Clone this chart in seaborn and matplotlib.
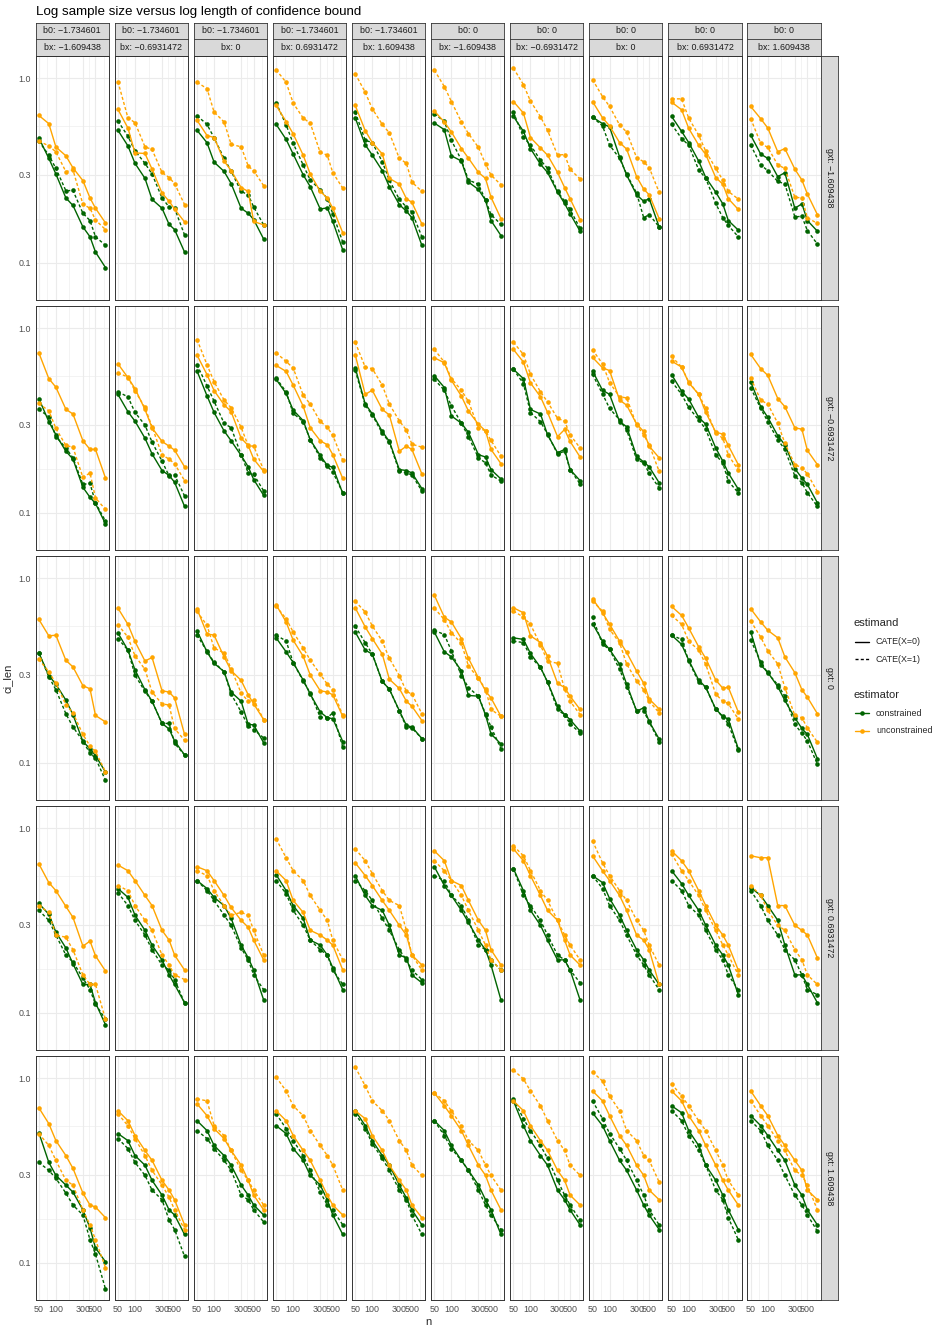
import numpy as np
import pandas as pd
import seaborn as sns
import matplotlib.pyplot as plt
from matplotlib.ticker import FixedLocator, FixedFormatter, NullFormatter

# facet levels
n_values = [50, 75, 100, 150, 200, 300, 400, 500, 750]
b0_labels = ["-1.734601"] * 5 + ["0"] * 5
bx_labels = ["-1.609438", "-0.6931472", "0", "0.6931472", "1.609438"] * 2
gxt_labels = ["-1.609438", "-0.6931472", "0", "0.6931472", "1.609438"]
estimators = ["constrained", "unconstrained"]
estimands = ["CATE(X=0)", "CATE(X=1)"]

# ci_len per row (gxt), one list of 9 values per column panel
con_x0_r1 = [
    [0.474, 0.367, 0.302, 0.224, 0.204, 0.156, 0.138, 0.114, 0.094],
    [0.521, 0.429, 0.345, 0.286, 0.220, 0.197, 0.161, 0.151, 0.114],
    [0.521, 0.446, 0.350, 0.312, 0.268, 0.197, 0.185, 0.171, 0.134],
    [0.561, 0.465, 0.387, 0.299, 0.258, 0.195, 0.198, 0.167, 0.117],
    [0.609, 0.435, 0.382, 0.315, 0.258, 0.206, 0.190, 0.175, 0.124],
    [0.570, 0.525, 0.379, 0.355, 0.273, 0.249, 0.218, 0.169, 0.140],
    [0.619, 0.514, 0.415, 0.341, 0.308, 0.241, 0.209, 0.184, 0.148],
    [0.614, 0.566, 0.543, 0.374, 0.298, 0.233, 0.215, 0.222, 0.156],
    [0.619, 0.514, 0.447, 0.355, 0.289, 0.241, 0.208, 0.169, 0.150],
    [0.490, 0.387, 0.367, 0.292, 0.307, 0.197, 0.208, 0.169, 0.148],
]
con_x1_r1 = [
    [0.455, 0.382, 0.324, 0.245, 0.246, 0.185, 0.169, 0.138, 0.124],
    [0.585, 0.484, 0.403, 0.345, 0.302, 0.224, 0.200, 0.197, 0.141],
    [0.624, 0.561, 0.474, 0.367, 0.313, 0.243, 0.233, 0.200, 0.160],
    [0.734, 0.557, 0.442, 0.338, 0.280, 0.248, 0.222, 0.184, 0.129],
    [0.654, 0.460, 0.447, 0.352, 0.280, 0.220, 0.200, 0.188, 0.138],
    [0.640, 0.582, 0.460, 0.359, 0.280, 0.266, 0.218, 0.182, 0.161],
    [0.654, 0.478, 0.433, 0.359, 0.324, 0.243, 0.215, 0.194, 0.153],
    [0.614, 0.550, 0.433, 0.367, 0.301, 0.238, 0.175, 0.182, 0.156],
    [0.561, 0.470, 0.433, 0.318, 0.286, 0.209, 0.175, 0.159, 0.138],
    [0.433, 0.338, 0.315, 0.275, 0.267, 0.177, 0.178, 0.149, 0.126],
]
unc_x0_r1 = [
    [0.627, 0.566, 0.423, 0.379, 0.326, 0.278, 0.224, 0.197, 0.164],
    [0.676, 0.536, 0.393, 0.390, 0.321, 0.238, 0.215, 0.195, 0.166],
    [0.590, 0.488, 0.476, 0.355, 0.315, 0.255, 0.243, 0.167, 0.160],
    [0.710, 0.581, 0.498, 0.382, 0.302, 0.243, 0.224, 0.197, 0.145],
    [0.710, 0.519, 0.447, 0.388, 0.286, 0.266, 0.222, 0.212, 0.162],
    [0.662, 0.578, 0.510, 0.415, 0.368, 0.308, 0.286, 0.226, 0.173],
    [0.746, 0.646, 0.476, 0.418, 0.382, 0.308, 0.255, 0.222, 0.171],
    [0.746, 0.609, 0.550, 0.447, 0.412, 0.292, 0.250, 0.233, 0.173],
    [0.740, 0.673, 0.534, 0.433, 0.385, 0.289, 0.266, 0.222, 0.194],
    [0.701, 0.602, 0.536, 0.398, 0.415, 0.321, 0.280, 0.235, 0.182],
]
unc_x1_r1 = [
    [0.455, 0.429, 0.398, 0.311, 0.318, 0.207, 0.197, 0.170, 0.151],
    [0.956, 0.609, 0.573, 0.424, 0.410, 0.308, 0.289, 0.268, 0.206],
    [0.948, 0.876, 0.654, 0.578, 0.437, 0.424, 0.334, 0.314, 0.261],
    [1.107, 0.948, 0.731, 0.607, 0.569, 0.395, 0.382, 0.307, 0.253],
    [1.055, 0.837, 0.681, 0.561, 0.504, 0.367, 0.345, 0.273, 0.243],
    [1.104, 0.899, 0.746, 0.578, 0.500, 0.421, 0.342, 0.298, 0.264],
    [1.131, 0.921, 0.749, 0.617, 0.521, 0.382, 0.385, 0.320, 0.284],
    [0.980, 0.794, 0.701, 0.557, 0.510, 0.370, 0.352, 0.327, 0.240],
    [0.771, 0.771, 0.607, 0.490, 0.401, 0.324, 0.280, 0.243, 0.221],
    [0.602, 0.442, 0.421, 0.338, 0.324, 0.226, 0.224, 0.175, 0.163],
]

con_x0_r2 = [
    [0.415, 0.311, 0.264, 0.215, 0.195, 0.137, 0.121, 0.112, 0.087],
    [0.437, 0.352, 0.313, 0.253, 0.208, 0.169, 0.159, 0.146, 0.108],
    [0.585, 0.429, 0.349, 0.277, 0.245, 0.204, 0.177, 0.151, 0.124],
    [0.527, 0.442, 0.359, 0.315, 0.248, 0.204, 0.180, 0.176, 0.127],
    [0.609, 0.388, 0.343, 0.275, 0.243, 0.171, 0.169, 0.164, 0.135],
    [0.552, 0.476, 0.334, 0.305, 0.272, 0.206, 0.200, 0.171, 0.152],
    [0.597, 0.532, 0.362, 0.342, 0.264, 0.211, 0.220, 0.171, 0.149],
    [0.585, 0.460, 0.437, 0.311, 0.292, 0.202, 0.188, 0.177, 0.145],
    [0.559, 0.455, 0.412, 0.328, 0.301, 0.224, 0.190, 0.164, 0.134],
    [0.510, 0.375, 0.328, 0.261, 0.233, 0.173, 0.154, 0.142, 0.113],
]
con_x1_r2 = [
    [0.362, 0.331, 0.258, 0.224, 0.198, 0.142, 0.144, 0.113, 0.090],
    [0.451, 0.424, 0.349, 0.298, 0.241, 0.190, 0.158, 0.160, 0.123],
    [0.632, 0.486, 0.401, 0.305, 0.288, 0.206, 0.164, 0.161, 0.131],
    [0.536, 0.451, 0.345, 0.311, 0.248, 0.198, 0.178, 0.166, 0.128],
    [0.590, 0.382, 0.338, 0.269, 0.241, 0.167, 0.164, 0.160, 0.131],
    [0.527, 0.460, 0.379, 0.305, 0.258, 0.198, 0.186, 0.160, 0.148],
    [0.597, 0.500, 0.348, 0.311, 0.266, 0.208, 0.215, 0.171, 0.143],
    [0.561, 0.439, 0.367, 0.318, 0.280, 0.194, 0.186, 0.163, 0.136],
    [0.514, 0.437, 0.371, 0.318, 0.283, 0.205, 0.186, 0.148, 0.128],
    [0.474, 0.367, 0.311, 0.248, 0.220, 0.158, 0.145, 0.128, 0.108],
]
unc_x0_r2 = [
    [0.734, 0.532, 0.478, 0.363, 0.342, 0.245, 0.220, 0.220, 0.154],
    [0.640, 0.539, 0.470, 0.362, 0.288, 0.243, 0.229, 0.218, 0.177],
    [0.713, 0.559, 0.458, 0.384, 0.352, 0.253, 0.231, 0.195, 0.167],
    [0.627, 0.582, 0.490, 0.377, 0.288, 0.245, 0.233, 0.206, 0.153],
    [0.716, 0.437, 0.460, 0.362, 0.338, 0.215, 0.229, 0.220, 0.162],
    [0.690, 0.648, 0.521, 0.428, 0.355, 0.301, 0.277, 0.220, 0.184],
    [0.765, 0.654, 0.504, 0.424, 0.349, 0.258, 0.282, 0.243, 0.200],
    [0.693, 0.609, 0.588, 0.407, 0.382, 0.302, 0.275, 0.229, 0.198],
    [0.662, 0.614, 0.506, 0.437, 0.349, 0.273, 0.266, 0.231, 0.182],
    [0.719, 0.602, 0.554, 0.415, 0.375, 0.288, 0.283, 0.217, 0.182],
]
unc_x1_r2 = [
    [0.390, 0.356, 0.286, 0.231, 0.226, 0.155, 0.164, 0.120, 0.104],
    [0.570, 0.543, 0.456, 0.371, 0.292, 0.205, 0.195, 0.184, 0.149],
    [0.866, 0.632, 0.512, 0.407, 0.370, 0.290, 0.230, 0.229, 0.170],
    [0.734, 0.659, 0.607, 0.433, 0.387, 0.312, 0.290, 0.262, 0.192],
    [0.837, 0.614, 0.602, 0.490, 0.387, 0.314, 0.280, 0.235, 0.226],
    [0.765, 0.654, 0.532, 0.460, 0.400, 0.288, 0.277, 0.246, 0.202],
    [0.837, 0.719, 0.561, 0.451, 0.398, 0.324, 0.313, 0.264, 0.224],
    [0.762, 0.640, 0.506, 0.424, 0.418, 0.298, 0.264, 0.233, 0.167],
    [0.701, 0.614, 0.510, 0.437, 0.367, 0.269, 0.253, 0.205, 0.170],
    [0.536, 0.407, 0.387, 0.305, 0.238, 0.182, 0.175, 0.162, 0.130],
]

con_x0_r3 = [
    [0.393, 0.296, 0.266, 0.218, 0.182, 0.130, 0.119, 0.109, 0.089],
    [0.504, 0.407, 0.318, 0.248, 0.215, 0.163, 0.152, 0.131, 0.110],
    [0.517, 0.398, 0.345, 0.311, 0.241, 0.215, 0.161, 0.160, 0.128],
    [0.474, 0.398, 0.348, 0.280, 0.235, 0.188, 0.175, 0.173, 0.130],
    [0.510, 0.407, 0.387, 0.275, 0.250, 0.191, 0.159, 0.156, 0.135],
    [0.510, 0.398, 0.374, 0.315, 0.231, 0.229, 0.181, 0.143, 0.126],
    [0.474, 0.465, 0.390, 0.328, 0.273, 0.202, 0.182, 0.171, 0.148],
    [0.566, 0.455, 0.410, 0.341, 0.266, 0.190, 0.198, 0.167, 0.134],
    [0.490, 0.437, 0.359, 0.280, 0.256, 0.195, 0.178, 0.172, 0.119],
    [0.510, 0.338, 0.308, 0.258, 0.217, 0.175, 0.153, 0.142, 0.105],
]
con_x1_r3 = [
    [0.393, 0.292, 0.248, 0.184, 0.156, 0.131, 0.112, 0.106, 0.080],
    [0.470, 0.407, 0.298, 0.243, 0.215, 0.163, 0.163, 0.127, 0.110],
    [0.490, 0.401, 0.349, 0.311, 0.235, 0.188, 0.158, 0.151, 0.136],
    [0.490, 0.456, 0.348, 0.277, 0.238, 0.176, 0.175, 0.186, 0.121],
    [0.548, 0.446, 0.387, 0.275, 0.250, 0.190, 0.156, 0.154, 0.135],
    [0.521, 0.494, 0.403, 0.296, 0.255, 0.229, 0.184, 0.156, 0.119],
    [0.455, 0.447, 0.374, 0.328, 0.273, 0.194, 0.181, 0.162, 0.145],
    [0.614, 0.437, 0.410, 0.320, 0.258, 0.191, 0.190, 0.166, 0.130],
    [0.490, 0.465, 0.355, 0.273, 0.256, 0.194, 0.177, 0.162, 0.117],
    [0.460, 0.352, 0.305, 0.264, 0.229, 0.161, 0.144, 0.131, 0.098],
]
unc_x0_r3 = [
    [0.597, 0.486, 0.490, 0.358, 0.330, 0.261, 0.251, 0.180, 0.166],
    [0.687, 0.561, 0.453, 0.355, 0.371, 0.245, 0.241, 0.224, 0.142],
    [0.681, 0.498, 0.490, 0.374, 0.315, 0.279, 0.233, 0.208, 0.171],
    [0.716, 0.578, 0.460, 0.377, 0.298, 0.245, 0.241, 0.233, 0.178],
    [0.690, 0.543, 0.470, 0.387, 0.283, 0.252, 0.215, 0.202, 0.169],
    [0.807, 0.614, 0.578, 0.470, 0.367, 0.288, 0.245, 0.224, 0.178],
    [0.690, 0.648, 0.486, 0.447, 0.377, 0.269, 0.255, 0.229, 0.194],
    [0.771, 0.648, 0.561, 0.455, 0.395, 0.313, 0.269, 0.221, 0.195],
    [0.701, 0.627, 0.536, 0.424, 0.367, 0.280, 0.253, 0.256, 0.188],
    [0.681, 0.578, 0.521, 0.474, 0.374, 0.307, 0.248, 0.226, 0.184],
]
unc_x1_r3 = [
    [0.362, 0.311, 0.269, 0.206, 0.186, 0.142, 0.123, 0.115, 0.089],
    [0.559, 0.478, 0.379, 0.320, 0.241, 0.208, 0.205, 0.153, 0.132],
    [0.659, 0.554, 0.417, 0.393, 0.323, 0.238, 0.215, 0.218, 0.171],
    [0.704, 0.602, 0.510, 0.418, 0.359, 0.301, 0.266, 0.248, 0.180],
    [0.749, 0.654, 0.550, 0.455, 0.367, 0.296, 0.243, 0.235, 0.184],
    [0.687, 0.595, 0.506, 0.442, 0.334, 0.286, 0.250, 0.194, 0.178],
    [0.662, 0.614, 0.561, 0.433, 0.355, 0.345, 0.250, 0.215, 0.182],
    [0.749, 0.662, 0.527, 0.446, 0.342, 0.277, 0.248, 0.215, 0.186],
    [0.627, 0.561, 0.455, 0.407, 0.341, 0.235, 0.215, 0.209, 0.172],
    [0.585, 0.478, 0.403, 0.342, 0.255, 0.180, 0.175, 0.154, 0.129],
]

con_x0_r4 = [
    [0.390, 0.341, 0.273, 0.224, 0.184, 0.142, 0.142, 0.113, 0.086],
    [0.470, 0.421, 0.337, 0.279, 0.232, 0.193, 0.160, 0.142, 0.113],
    [0.519, 0.470, 0.421, 0.380, 0.324, 0.232, 0.198, 0.170, 0.117],
    [0.559, 0.458, 0.380, 0.324, 0.247, 0.232, 0.205, 0.175, 0.133],
    [0.552, 0.431, 0.380, 0.358, 0.297, 0.205, 0.198, 0.160, 0.145],
    [0.617, 0.488, 0.431, 0.358, 0.308, 0.247, 0.219, 0.181, 0.117],
    [0.602, 0.458, 0.358, 0.297, 0.247, 0.193, 0.193, 0.170, 0.117],
    [0.552, 0.506, 0.415, 0.337, 0.279, 0.219, 0.193, 0.170, 0.142],
    [0.587, 0.500, 0.431, 0.358, 0.297, 0.232, 0.205, 0.181, 0.125],
    [0.476, 0.431, 0.380, 0.316, 0.232, 0.160, 0.160, 0.142, 0.113],
]
con_x1_r4 = [
    [0.358, 0.316, 0.263, 0.205, 0.188, 0.154, 0.133, 0.111, 0.092],
    [0.447, 0.380, 0.316, 0.263, 0.219, 0.181, 0.170, 0.151, 0.113],
    [0.519, 0.458, 0.405, 0.337, 0.297, 0.224, 0.193, 0.160, 0.133],
    [0.519, 0.441, 0.358, 0.297, 0.247, 0.219, 0.205, 0.170, 0.142],
    [0.519, 0.458, 0.405, 0.324, 0.279, 0.219, 0.193, 0.170, 0.151],
    [0.552, 0.519, 0.431, 0.380, 0.316, 0.232, 0.219, 0.193, 0.170],
    [0.602, 0.431, 0.380, 0.316, 0.263, 0.205, 0.193, 0.170, 0.145],
    [0.552, 0.470, 0.380, 0.316, 0.263, 0.205, 0.181, 0.160, 0.133],
    [0.519, 0.458, 0.380, 0.337, 0.279, 0.219, 0.193, 0.160, 0.133],
    [0.458, 0.380, 0.316, 0.263, 0.219, 0.193, 0.160, 0.133, 0.125],
]
unc_x0_r4 = [
    [0.640, 0.506, 0.458, 0.376, 0.328, 0.229, 0.244, 0.203, 0.168],
    [0.630, 0.587, 0.519, 0.431, 0.380, 0.279, 0.247, 0.205, 0.170],
    [0.617, 0.587, 0.519, 0.431, 0.371, 0.316, 0.290, 0.247, 0.193],
    [0.587, 0.519, 0.405, 0.349, 0.279, 0.263, 0.247, 0.232, 0.170],
    [0.648, 0.552, 0.488, 0.405, 0.358, 0.297, 0.263, 0.205, 0.181],
    [0.752, 0.665, 0.519, 0.488, 0.405, 0.316, 0.279, 0.219, 0.181],
    [0.771, 0.665, 0.552, 0.431, 0.358, 0.316, 0.247, 0.205, 0.181],
    [0.707, 0.587, 0.519, 0.431, 0.358, 0.263, 0.247, 0.219, 0.142],
    [0.752, 0.665, 0.587, 0.458, 0.380, 0.297, 0.263, 0.232, 0.170],
    [0.707, 0.690, 0.690, 0.380, 0.380, 0.297, 0.279, 0.263, 0.198],
]
unc_x1_r4 = [
    [0.380, 0.349, 0.263, 0.256, 0.219, 0.160, 0.142, 0.142, 0.092],
    [0.488, 0.458, 0.380, 0.316, 0.279, 0.205, 0.181, 0.160, 0.151],
    [0.587, 0.552, 0.458, 0.380, 0.337, 0.349, 0.337, 0.279, 0.205],
    [0.873, 0.690, 0.587, 0.519, 0.431, 0.358, 0.316, 0.247, 0.193],
    [0.771, 0.665, 0.566, 0.458, 0.405, 0.380, 0.279, 0.205, 0.170],
    [0.665, 0.587, 0.519, 0.431, 0.358, 0.279, 0.232, 0.193, 0.170],
    [0.800, 0.707, 0.587, 0.458, 0.405, 0.316, 0.263, 0.232, 0.193],
    [0.851, 0.648, 0.552, 0.458, 0.405, 0.316, 0.279, 0.232, 0.181],
    [0.725, 0.587, 0.519, 0.431, 0.358, 0.279, 0.232, 0.205, 0.160],
    [0.488, 0.431, 0.358, 0.297, 0.279, 0.219, 0.193, 0.160, 0.142],
]

con_x0_r5 = [
    [0.506, 0.349, 0.297, 0.263, 0.241, 0.193, 0.154, 0.120, 0.101],
    [0.500, 0.458, 0.380, 0.337, 0.279, 0.232, 0.193, 0.181, 0.142],
    [0.587, 0.519, 0.431, 0.380, 0.337, 0.263, 0.232, 0.205, 0.181],
    [0.552, 0.500, 0.415, 0.358, 0.297, 0.263, 0.219, 0.181, 0.142],
    [0.665, 0.552, 0.458, 0.380, 0.337, 0.263, 0.224, 0.193, 0.160],
    [0.587, 0.519, 0.431, 0.358, 0.316, 0.263, 0.219, 0.193, 0.142],
    [0.752, 0.552, 0.458, 0.380, 0.337, 0.247, 0.219, 0.193, 0.160],
    [0.648, 0.552, 0.458, 0.358, 0.316, 0.247, 0.205, 0.181, 0.151],
    [0.707, 0.648, 0.519, 0.431, 0.337, 0.279, 0.232, 0.193, 0.151],
    [0.625, 0.552, 0.488, 0.405, 0.358, 0.263, 0.232, 0.193, 0.160],
]
con_x1_r5 = [
    [0.349, 0.316, 0.286, 0.238, 0.205, 0.181, 0.133, 0.111, 0.072],
    [0.470, 0.415, 0.349, 0.297, 0.247, 0.219, 0.170, 0.151, 0.108],
    [0.519, 0.470, 0.415, 0.358, 0.316, 0.232, 0.219, 0.193, 0.166],
    [0.640, 0.532, 0.458, 0.380, 0.316, 0.241, 0.205, 0.193, 0.160],
    [0.640, 0.532, 0.441, 0.367, 0.316, 0.247, 0.219, 0.181, 0.142],
    [0.587, 0.488, 0.415, 0.358, 0.316, 0.247, 0.205, 0.181, 0.151],
    [0.771, 0.602, 0.519, 0.431, 0.367, 0.279, 0.232, 0.205, 0.170],
    [0.752, 0.602, 0.500, 0.415, 0.358, 0.279, 0.232, 0.193, 0.160],
    [0.665, 0.587, 0.488, 0.405, 0.337, 0.247, 0.219, 0.175, 0.133],
    [0.587, 0.519, 0.431, 0.358, 0.297, 0.232, 0.205, 0.181, 0.148],
]
unc_x0_r5 = [
    [0.690, 0.566, 0.458, 0.380, 0.324, 0.238, 0.205, 0.200, 0.175],
    [0.665, 0.587, 0.488, 0.405, 0.358, 0.279, 0.247, 0.219, 0.160],
    [0.725, 0.625, 0.532, 0.470, 0.405, 0.337, 0.279, 0.232, 0.193],
    [0.665, 0.587, 0.488, 0.405, 0.358, 0.279, 0.232, 0.205, 0.181],
    [0.665, 0.602, 0.488, 0.405, 0.337, 0.279, 0.247, 0.205, 0.175],
    [0.830, 0.707, 0.625, 0.519, 0.431, 0.337, 0.297, 0.247, 0.193],
    [0.752, 0.665, 0.552, 0.458, 0.405, 0.316, 0.279, 0.232, 0.205],
    [0.851, 0.752, 0.625, 0.488, 0.431, 0.337, 0.297, 0.247, 0.219],
    [0.851, 0.752, 0.625, 0.519, 0.431, 0.337, 0.279, 0.247, 0.205],
    [0.851, 0.707, 0.625, 0.488, 0.431, 0.358, 0.316, 0.247, 0.219],
]
unc_x1_r5 = [
    [0.500, 0.431, 0.358, 0.279, 0.263, 0.193, 0.160, 0.133, 0.094],
    [0.640, 0.552, 0.470, 0.380, 0.316, 0.263, 0.226, 0.193, 0.151],
    [0.771, 0.752, 0.552, 0.488, 0.405, 0.316, 0.279, 0.247, 0.205],
    [1.012, 0.851, 0.707, 0.625, 0.519, 0.431, 0.380, 0.337, 0.247],
    [1.146, 0.906, 0.752, 0.665, 0.587, 0.458, 0.405, 0.337, 0.297],
    [0.830, 0.752, 0.665, 0.552, 0.458, 0.405, 0.337, 0.297, 0.247],
    [1.104, 0.988, 0.851, 0.707, 0.587, 0.458, 0.405, 0.337, 0.297],
    [1.077, 0.963, 0.800, 0.665, 0.519, 0.458, 0.380, 0.358, 0.273],
    [0.929, 0.800, 0.707, 0.587, 0.519, 0.405, 0.337, 0.279, 0.232],
    [0.752, 0.625, 0.552, 0.458, 0.405, 0.316, 0.297, 0.263, 0.193],
]

rows_data = [
    (con_x0_r1, con_x1_r1, unc_x0_r1, unc_x1_r1),
    (con_x0_r2, con_x1_r2, unc_x0_r2, unc_x1_r2),
    (con_x0_r3, con_x1_r3, unc_x0_r3, unc_x1_r3),
    (con_x0_r4, con_x1_r4, unc_x0_r4, unc_x1_r4),
    (con_x0_r5, con_x1_r5, unc_x0_r5, unc_x1_r5),
]
series_keys = [("constrained", "CATE(X=0)"), ("constrained", "CATE(X=1)"),
               ("unconstrained", "CATE(X=0)"), ("unconstrained", "CATE(X=1)")]

# long table
records = []
for ri, arrs in enumerate(rows_data):
    for (est, estd), arr in zip(series_keys, arrs):
        for ci, vals in enumerate(arr):
            for n, v in zip(n_values, vals):
                records.append({"row": ri, "col": ci, "estimator": est,
                                "estimand": estd, "n": n, "ci_len": v})
df = pd.DataFrame(records)

sns.set_style("white")
plt.rcParams["font.family"] = ["Liberation Sans", "DejaVu Sans"]

palette = {"constrained": "#006400", "unconstrained": "#FFA500"}
dark = "#333333"
grid_col = "#EBEBEB"
strip_bg = "#D9D9D9"

W, H = 941, 1332
fig = plt.figure(figsize=(W / 100, H / 100), dpi=100)


def rect(x0, y0, w, h):
    return [x0 / W, 1 - (y0 + h) / H, w / W, h / H]


def minus(s):
    return s.replace("-", "\u2212")


# shared log scales with 5% expansion like ggplot
lx = np.log10(n_values)
xpad = (lx.max() - lx.min()) * 0.05
xlim = (10 ** (lx.min() - xpad), 10 ** (lx.max() + xpad))
ly = np.log10(df["ci_len"])
ypad = (ly.max() - ly.min()) * 0.05
ylim = (10 ** (ly.min() - ypad), 10 ** (ly.max() + ypad))

x_major = [50, 100, 300, 500]
x_minor = [70.71, 173.2, 387.3, 707.1]
y_major = [0.1, 0.3, 1.0]
y_minor = [0.1732, 0.5477]

pw, ph = 73.3, 244
for ri in range(5):
    for ci in range(10):
        px = 35.5 + 79.1 * ci
        py = 56 + 250 * ri
        ax = fig.add_axes(rect(px, py, pw, ph))
        sub = df[(df["row"] == ri) & (df["col"] == ci)]
        sns.lineplot(data=sub, x="n", y="ci_len", hue="estimator", style="estimand",
                     hue_order=estimators, style_order=estimands, palette=palette,
                     markers={"CATE(X=0)": "o", "CATE(X=1)": "o"},
                     dashes={"CATE(X=0)": "", "CATE(X=1)": (2.2, 1.6)},
                     linewidth=1.0, markersize=3.3, markeredgewidth=0,
                     errorbar=None, legend=False, ax=ax)
        ax.set_xscale("log")
        ax.set_yscale("log")
        ax.set_xlim(xlim)
        ax.set_ylim(ylim)
        ax.xaxis.set_major_locator(FixedLocator(x_major))
        ax.xaxis.set_minor_locator(FixedLocator(x_minor))
        ax.yaxis.set_major_locator(FixedLocator(y_major))
        ax.yaxis.set_minor_locator(FixedLocator(y_minor))
        ax.xaxis.set_major_formatter(FixedFormatter([str(v) for v in x_major]))
        ax.yaxis.set_major_formatter(FixedFormatter(["0.1", "0.3", "1.0"]))
        ax.xaxis.set_minor_formatter(NullFormatter())
        ax.yaxis.set_minor_formatter(NullFormatter())
        ax.grid(True, which="major", color=grid_col, linewidth=0.8)
        ax.grid(True, which="minor", color=grid_col, linewidth=0.4)
        ax.set_axisbelow(True)
        ax.set_xlabel("")
        ax.set_ylabel("")
        for sp in ax.spines.values():
            sp.set_color(dark)
            sp.set_linewidth(0.7)
        ax.tick_params(which="minor", length=0)
        ax.tick_params(which="major", length=2.2, width=0.6, color=dark,
                       labelsize=6.4, labelcolor="#4D4D4D", pad=1.2)
        if ci != 0:
            ax.tick_params(axis="y", which="major", length=0, labelleft=False)
        if ri != 4:
            ax.tick_params(axis="x", which="major", length=0, labelbottom=False)

        # column strips
        if ri == 0:
            for k, (lab, sy) in enumerate([("b0: " + b0_labels[ci], 22.5),
                                           ("bx: " + bx_labels[ci], 39.0)]):
                sax = fig.add_axes(rect(px, sy, pw, 16.5))
                sax.set_facecolor(strip_bg)
                sax.set_xticks([])
                sax.set_yticks([])
                for sp in sax.spines.values():
                    sp.set_color(dark)
                    sp.set_linewidth(0.6)
                sax.text(0.5, 0.5, minus(lab), ha="center", va="center",
                         fontsize=6.4, color="#1A1A1A", transform=sax.transAxes)
        # row strips
        if ci == 9:
            sax = fig.add_axes(rect(px + pw + 0.5, py, 16.5, ph))
            sax.set_facecolor(strip_bg)
            sax.set_xticks([])
            sax.set_yticks([])
            for sp in sax.spines.values():
                sp.set_color(dark)
                sp.set_linewidth(0.6)
            sax.text(0.5, 0.5, minus("gxt: " + gxt_labels[ri]), ha="center", va="center",
                     rotation=-90, fontsize=6.4, color="#1A1A1A", transform=sax.transAxes)

# titles
fig.text(35.5 / W, 1 - 14.5 / H, "Log sample size versus log length of confidence bound",
         fontsize=9.6, ha="left", va="baseline", color="black")
fig.text(8 / W, 1 - 678 / H, "ci_len", rotation=90, fontsize=8, ha="center", va="center")
fig.text(428 / W, 1 - 1322 / H, "n", fontsize=8, ha="center", va="center")

# legend drawn in a helper axes using pixel-like coordinates
lax = fig.add_axes(rect(840, 600, 101, 150))
lax.set_xlim(840, 941)
lax.set_ylim(750, 600)
lax.axis("off")
lax.text(853, 623, "estimand", fontsize=8, va="center", ha="left")
lax.plot([855, 868.5], [641.7, 641.7], color="black", lw=1.0)
lax.plot([855, 868.5], [659.3, 659.3], color="black", lw=1.0, dashes=(2.2, 1.6))
lax.text(876, 641.7, "CATE(X=0)", fontsize=6.4, va="center", ha="left")
lax.text(876, 659.3, "CATE(X=1)", fontsize=6.4, va="center", ha="left")
lax.text(853, 695, "estimator", fontsize=8, va="center", ha="left")
for yy, est in [(713.3, "constrained"), (730.7, "unconstrained")]:
    lax.plot([855, 868.5], [yy, yy], color=palette[est], lw=1.0)
    lax.plot([861.7], [yy], "o", color=palette[est], ms=3.3, mew=0)
    lax.text(876, yy, est, fontsize=6.4, va="center", ha="left")

fig.savefig("out.png", dpi=100)
